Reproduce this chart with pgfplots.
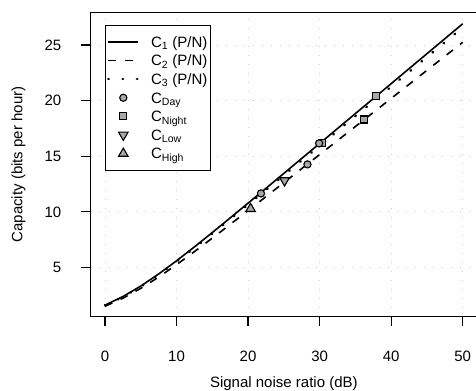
\documentclass[border=0pt]{standalone}
\usepackage{pgfplots}
\pgfplotsset{compat=1.18}
\usepackage{fontspec}
\setmainfont{Liberation Sans}
\definecolor{mkfill}{HTML}{A8A8A8}
\definecolor{gridc}{HTML}{CCCCCC}
\begin{document}
\begin{tikzpicture}[font=\fontsize{15bp}{18bp}\selectfont]
\useasboundingbox (0,0) rectangle (476bp,391bp);
\begin{axis}[
  at={(90.7bp,74.3bp)}, anchor=south west,
  scale only axis, width=386.3bp, height=304.4bp,
  xmin=-2, xmax=52, ymin=0.58, ymax=27.94,
  axis line style={line width=1.2bp},
  xtick={0,10,20,30,40,50}, ytick={5,10,15,20,25},
  tick align=outside, xtick pos=bottom, ytick pos=left,
  major tick length=9.5bp,
  every tick/.style={black, line width=1.2bp},
  /pgf/number format/assume math mode=true,
  xticklabel style={anchor=center, yshift=-30bp},
  yticklabel style={anchor=east, inner sep=0pt, xshift=-19.7bp},
  grid=major,
  major grid style={gridc, line width=0.9bp, dash pattern=on 0.9bp off 8.1bp},
  xlabel={Signal noise ratio (dB)},
  ylabel={Capacity (bits per hour)},
  xlabel style={at={(axis description cs:0.5,-0.219)}, anchor=center},
  ylabel style={at={(axis description cs:-0.187,0.5)}, anchor=center},
  legend cell align=left,
  legend image code/.code={\draw[mark repeat=2, mark phase=2, #1] plot coordinates {(0bp,0bp) (15bp,0bp) (30bp,0bp)};},
  legend style={draw=black, line width=1bp, fill=white,
    at={(axis cs:0,26.83)}, anchor=north west,
    inner xsep=1.5bp, inner ysep=7.5bp, row sep=0bp, column sep=10bp,
    nodes={inner xsep=1.5bp, inner ysep=1.8bp, text height=12.9bp, text depth=2.1bp},
    column 2/.style={nodes={text width=61.5bp, align=left}}},
]
% C1 (P/N)
\addplot[black, line width=1.6bp] coordinates {
(0,1.620) (2.5,2.388) (5,3.333) (7.5,4.418) (10,5.604) (12.5,6.854)
(15,8.146) (17.5,9.459) (20,10.786) (22.5,12.121) (25,13.461) (27.5,14.804)
(30,16.147) (32.5,17.490) (35,18.836) (37.5,20.180) (40,21.526) (42.5,22.871)
(45,24.217) (47.5,25.562) (50,26.908)};
\addlegendentry{C\textsubscript{1} (P/N)}
% C2 (P/N)
\addplot[black, line width=1.6bp, dash pattern=on 8bp off 9bp] coordinates {
(0,1.520) (2.5,2.240) (5,3.127) (7.5,4.145) (10,5.258) (12.5,6.431)
(15,7.643) (17.5,8.875) (20,10.120) (22.5,11.373) (25,12.630) (27.5,13.890)
(30,15.150) (32.5,16.411) (35,17.673) (37.5,18.935) (40,20.198) (42.5,21.459)
(45,22.722) (47.5,23.984) (50,25.247)};
\addlegendentry{C\textsubscript{2} (P/N)}
% C3 (P/N)
\addplot[black, line width=2.6bp, line cap=round, dash pattern=on 0.5bp off 13.8bp] coordinates {
(0,1.600) (2.5,2.358) (5,3.291) (7.5,4.363) (10,5.534) (12.5,6.770)
(15,8.045) (17.5,9.342) (20,10.653) (22.5,11.971) (25,13.294) (27.5,14.621)
(30,15.947) (32.5,17.275) (35,18.603) (37.5,19.931) (40,21.261) (42.5,22.589)
(45,23.918) (47.5,25.246) (50,26.576)};
\addlegendentry{C\textsubscript{3} (P/N)}
% C_Night (drawn under the Day circles)
\addplot[only marks, mark=square*, mark size=3.5bp,
  mark options={fill=mkfill, draw=black, line width=1.1bp}, forget plot]
  coordinates {(30.3,16.16) (36.2,18.30) (37.85,20.44)};
% C_Day
\addplot[only marks, mark=*, mark size=3.6bp,
  mark options={fill=mkfill, draw=black, line width=1.1bp}]
  coordinates {(21.8,11.66) (28.3,14.27) (29.93,16.16)};
\addlegendentry{C\textsubscript{Day}}
\addlegendimage{only marks, mark=square*, mark size=3.5bp,
  mark options={fill=mkfill, draw=black, line width=1.1bp}}
\addlegendentry{C\textsubscript{Night}}
% C_Low
\addplot[only marks, mark=triangle*, mark size=5.5bp,
  mark options={rotate=180, fill=mkfill, draw=black, line width=1.1bp}]
  coordinates {(25.1,12.82)};
\addlegendentry{C\textsubscript{Low}}
% C_High
\addplot[only marks, mark=triangle*, mark size=5.5bp,
  mark options={fill=mkfill, draw=black, line width=1.1bp}]
  coordinates {(20.35,10.28)};
\addlegendentry{C\textsubscript{High}}
\end{axis}
\end{tikzpicture}
\end{document}
